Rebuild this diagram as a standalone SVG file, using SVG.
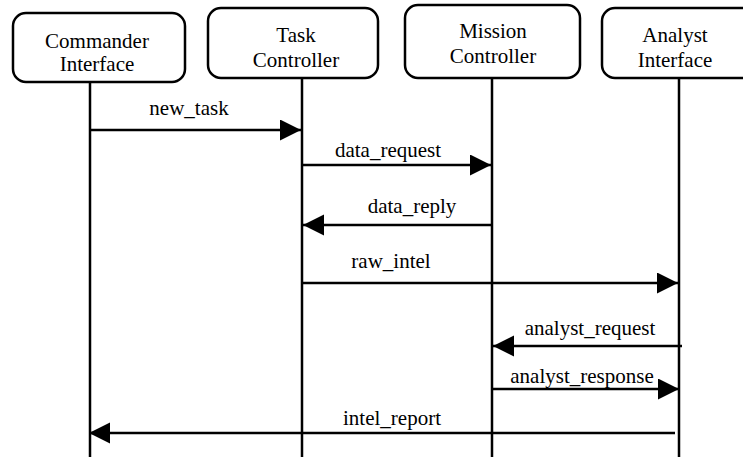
<svg xmlns="http://www.w3.org/2000/svg" width="743" height="457" viewBox="0 0 743 457">
<style>
.box{fill:#fff;stroke:#000;stroke-width:2.5}
.life{stroke:#000;stroke-width:2.5;fill:none}
.msg{stroke:#000;stroke-width:2.5;fill:none}
text{font-family:"Liberation Serif","Times New Roman",serif;font-size:21px;fill:#000;text-anchor:middle}
</style>
<defs>
<marker id="ah" markerUnits="userSpaceOnUse" markerWidth="22" markerHeight="22" refX="21" refY="10.5" orient="auto">
<path d="M0,0 L21,10.5 L0,21 Z" fill="#000"/>
</marker>
</defs>
<g id="commander">
<rect class="box" x="13" y="13" width="172" height="69" rx="13"/>
<text x="97" y="48">Commander</text>
<text x="97" y="71">Interface</text>
<line class="life" x1="90" y1="82" x2="90" y2="457"/>
</g>
<g id="task">
<rect class="box" x="208" y="8" width="170" height="70" rx="13"/>
<text x="296" y="42">Task</text>
<text x="296" y="67">Controller</text>
<line class="life" x1="302" y1="78" x2="302" y2="457"/>
</g>
<g id="mission">
<rect class="box" x="405" y="5" width="175" height="73" rx="13"/>
<text x="493" y="38">Mission</text>
<text x="493" y="63">Controller</text>
<line class="life" x1="492" y1="78" x2="492" y2="457"/>
</g>
<g id="analyst">
<rect class="box" x="602" y="8" width="160" height="70" rx="13"/>
<text x="675" y="42">Analyst</text>
<text x="675" y="67">Interface</text>
<line class="life" x1="679" y1="78" x2="679" y2="457"/>
</g>
<g id="connectors">
<line class="msg" x1="90" y1="130" x2="301" y2="130" marker-end="url(#ah)"/>
<text x="189" y="115">new_task</text>
<line class="msg" x1="302" y1="165" x2="491" y2="165" marker-end="url(#ah)"/>
<text x="388" y="157">data_request</text>
<line class="msg" x1="492" y1="225" x2="303" y2="225" marker-end="url(#ah)"/>
<text x="412" y="213">data_reply</text>
<line class="msg" x1="302" y1="283" x2="678" y2="283" marker-end="url(#ah)"/>
<text x="391" y="268">raw_intel</text>
<line class="msg" x1="682" y1="346" x2="493" y2="346" marker-end="url(#ah)"/>
<text x="590" y="335">analyst_request</text>
<line class="msg" x1="492" y1="389" x2="679" y2="389" marker-end="url(#ah)"/>
<text x="582" y="383">analyst_response</text>
<line class="msg" x1="675" y1="433" x2="89" y2="433" marker-end="url(#ah)"/>
<text x="392" y="425">intel_report</text>
</g>
</svg>
